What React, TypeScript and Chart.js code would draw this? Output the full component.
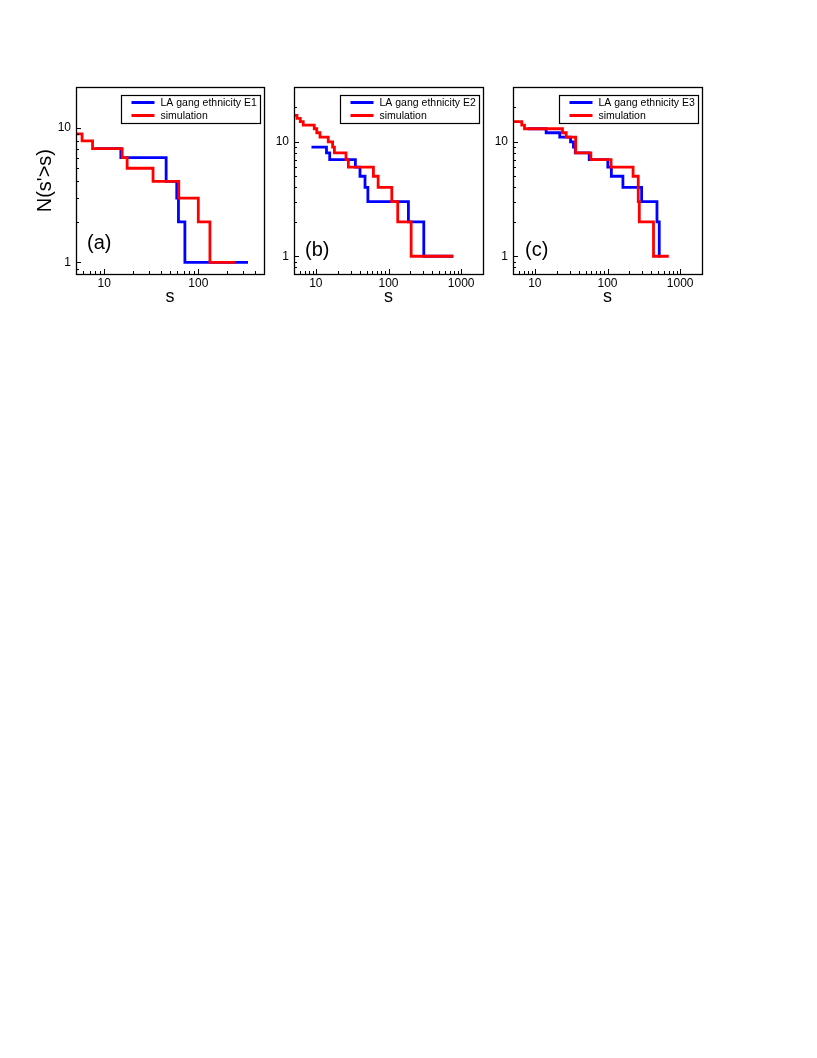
import React, { useEffect, useRef } from 'react';
import { Chart, registerables } from 'chart.js';

Chart.register(...registerables);

const FONT = '"Liberation Sans", Arial, Helvetica, sans-serif';

// ---------- data: panel (a) ----------
const aBlueS = [8, 15, 45.5, 59, 61.5, 72, 338];
const aBlueN = [7, 6, 4, 3, 2, 1, 1];
const aRedS = [5, 5.8, 7.5, 15.5, 17.5, 33, 62, 100, 133, 248];
const aRedN = [9, 8, 7, 6, 5, 4, 3, 2, 1, 1];

// ---------- data: panel (b) ----------
const bBlueS = [8.7, 14, 15.5, 35, 40.5, 47.5, 52, 188, 306, 780];
const bBlueN = [9, 8, 7, 6, 5, 4, 3, 2, 1, 1];
const bRedS = [5, 5.5, 6.1, 6.7, 9.5, 10.3, 11.4, 14.8, 17, 18, 26, 28, 62, 72, 111, 134, 205, 780];
const bRedN = [17, 16, 15, 14, 13, 12, 11, 10, 9, 8, 7, 6, 5, 4, 3, 2, 1, 1];

// ---------- data: panel (c) ----------
const cBlueS = [8, 14.3, 22, 31, 34, 36, 56, 101, 113, 163, 295, 480, 516, 530];
const cBlueN = [13, 12, 11, 10, 9, 8, 7, 6, 5, 4, 3, 2, 1, 1];
const cRedS = [5, 6.6, 7.2, 24, 27, 36.5, 59, 112, 225, 265, 274, 430, 698];
const cRedN = [15, 14, 13, 12, 11, 8, 7, 6, 5, 3, 2, 1, 1];

// ---------- labels ----------
const dataLabels = ['LA gang ethnicity E1', 'LA gang ethnicity E2', 'LA gang ethnicity E3'];
const simLabel = 'simulation';
const panelLabels = ['(a)', '(b)', '(c)'];
const yTitle = "N(s'>s)";
const xTitle = 's';

// ---------- axis ranges ----------
const xRanges = [[5, 500], [5, 2000], [5, 2000]];
const yRanges = [[0.82, 20], [0.7, 30], [0.7, 30]];

const BLUE = '#0000ff';
const RED = '#ff0000';

const isPow10 = (v: number) => Math.abs(Math.log10(v) - Math.round(Math.log10(v))) < 1e-6;

function logTicks(min: number, max: number) {
  const out: { value: number }[] = [];
  for (let k = Math.floor(Math.log10(min)); k <= Math.ceil(Math.log10(max)); k++) {
    for (let d = 1; d <= 9; d++) {
      const v = d * Math.pow(10, k);
      if (v > min * 1.0001 && v < max * 0.9999) out.push({ value: v });
    }
  }
  return out;
}

const toPts = (s: number[], n: number[]) => s.map((x, i) => ({ x, y: n[i] }));

const decorPlugin = {
  id: 'decor',
  afterDraw(chart: any, _args: any, opts: any) {
    const { ctx, chartArea: ca } = chart;
    const xs = chart.scales.x;
    const ys = chart.scales.y;
    ctx.save();
    ctx.strokeStyle = '#000';
    ctx.lineWidth = 1;
    // inward ticks on bottom & left
    ctx.beginPath();
    for (const t of xs.ticks) {
      const px = Math.round(xs.getPixelForValue(t.value)) + 0.5;
      const len = isPow10(t.value) ? 5 : 3;
      ctx.moveTo(px, ca.bottom);
      ctx.lineTo(px, ca.bottom - len);
    }
    for (const t of ys.ticks) {
      const py = Math.round(ys.getPixelForValue(t.value)) + 0.5;
      const len = isPow10(t.value) ? 5 : 3;
      ctx.moveTo(ca.left, py);
      ctx.lineTo(ca.left + len, py);
    }
    ctx.stroke();
    // frame
    ctx.lineWidth = 1.3;
    ctx.strokeRect(Math.round(ca.left) + 0.5, Math.round(ca.top) + 0.5, Math.round(ca.right - ca.left), Math.round(ca.bottom - ca.top));

    // legend box
    const lw = 139, lh = 28;
    const lx = Math.round(ca.right - 4 - lw) + 0.5;
    const ly = Math.round(ca.top + 8) + 0.5;
    ctx.fillStyle = '#fff';
    ctx.fillRect(lx, ly, lw, lh);
    ctx.lineWidth = 1.2;
    ctx.strokeStyle = '#000';
    ctx.strokeRect(lx, ly, lw, lh);
    const items = opts.legend as { label: string; color: string }[];
    items.forEach((it, i) => {
      const yy = ly + 7 + i * 13;
      ctx.beginPath();
      ctx.strokeStyle = it.color;
      ctx.lineWidth = 3;
      ctx.moveTo(lx + 10, yy);
      ctx.lineTo(lx + 33, yy);
      ctx.stroke();
      ctx.fillStyle = '#000';
      ctx.font = `10.5px ${FONT}`;
      ctx.textAlign = 'left';
      ctx.textBaseline = 'middle';
      ctx.fillText(it.label, lx + 39, yy + 0.5);
    });

    // panel label
    ctx.fillStyle = '#000';
    ctx.font = `20px ${FONT}`;
    ctx.textAlign = 'left';
    ctx.textBaseline = 'middle';
    ctx.fillText(opts.panelLabel, ca.left + opts.labelDx, ca.bottom - opts.labelDy);
    ctx.restore();
  },
};

type PanelSpec = {
  left: number; top: number; w: number; h: number;
  yW: number; xH: number; padTop: number; padRight: number;
  blue: { x: number; y: number }[]; red: { x: number; y: number }[];
  xr: number[]; yr: number[]; label: string; panelLabel: string;
  showYTitle: boolean; labelDx: number; labelDy: number;
};

const panels: PanelSpec[] = [
  { left: 16, top: 75, w: 256, h: 240, yW: 60, xH: 41, padTop: 10, padRight: 8,
    blue: toPts(aBlueS, aBlueN), red: toPts(aRedS, aRedN), xr: xRanges[0], yr: yRanges[0],
    label: dataLabels[0], panelLabel: panelLabels[0], showYTitle: true, labelDx: 11, labelDy: 31 },
  { left: 266, top: 75, w: 226, h: 240, yW: 28, xH: 41, padTop: 10, padRight: 9,
    blue: toPts(bBlueS, bBlueN), red: toPts(bRedS, bRedN), xr: xRanges[1], yr: yRanges[1],
    label: dataLabels[1], panelLabel: panelLabels[1], showYTitle: false, labelDx: 11, labelDy: 24 },
  { left: 485, top: 75, w: 226, h: 240, yW: 28, xH: 41, padTop: 10, padRight: 9,
    blue: toPts(cBlueS, cBlueN), red: toPts(cRedS, cRedN), xr: xRanges[2], yr: yRanges[2],
    label: dataLabels[2], panelLabel: panelLabels[2], showYTitle: false, labelDx: 12, labelDy: 24 },
];

function Panel({ spec }: { spec: PanelSpec }) {
  const ref = useRef<HTMLCanvasElement | null>(null);
  useEffect(() => {
    if (!ref.current) return;
    const tickCb = (v: any) => (isPow10(Number(v)) ? String(Math.round(Number(v))) : '');
    const chart = new Chart(ref.current, {
      type: 'line',
      data: {
        datasets: [
          { label: spec.label, data: spec.blue, borderColor: BLUE, borderWidth: 2.8, pointRadius: 0,
            stepped: 'before', fill: false, order: 2 },
          { label: simLabel, data: spec.red, borderColor: RED, borderWidth: 2.8, pointRadius: 0,
            stepped: 'before', fill: false, order: 1 },
        ],
      } as any,
      options: {
        animation: false,
        responsive: false,
        devicePixelRatio: 1,
        events: [],
        layout: { padding: { top: spec.padTop, right: spec.padRight, left: 0, bottom: 0 } },
        plugins: {
          legend: { display: false },
          tooltip: { enabled: false },
          decor: {
            legend: [
              { label: spec.label, color: BLUE },
              { label: simLabel, color: RED },
            ],
            panelLabel: spec.panelLabel,
            labelDx: spec.labelDx,
            labelDy: spec.labelDy,
          },
        } as any,
        scales: {
          x: {
            type: 'logarithmic',
            min: spec.xr[0],
            max: spec.xr[1],
            afterBuildTicks: (s: any) => { s.ticks = logTicks(spec.xr[0], spec.xr[1]); },
            afterFit: (s: any) => { s.height = spec.xH; },
            grid: { display: false, drawTicks: false, tickLength: 0 },
            border: { display: false },
            ticks: { autoSkip: false, maxRotation: 0, minRotation: 0, padding: 2, color: '#000',
              font: { family: FONT, size: 12 }, callback: tickCb },
            title: { display: true, text: xTitle, color: '#000', font: { family: FONT, size: 18 },
              padding: { top: 0, bottom: 7 } },
          },
          y: {
            type: 'logarithmic',
            min: spec.yr[0],
            max: spec.yr[1],
            afterBuildTicks: (s: any) => { s.ticks = logTicks(spec.yr[0], spec.yr[1]); },
            afterFit: (s: any) => { s.width = spec.yW; },
            grid: { display: false, drawTicks: false, tickLength: 0 },
            border: { display: false },
            ticks: { autoSkip: false, padding: 5, color: '#000', font: { family: FONT, size: 12 },
              callback: tickCb },
            title: { display: spec.showYTitle, text: yTitle, color: '#000', font: { family: FONT, size: 20 },
              padding: { top: 17.5, bottom: 0 } },
          },
        },
      } as any,
      plugins: [decorPlugin as any],
    });
    return () => chart.destroy();
  }, [spec]);
  return (
    <canvas
      ref={ref}
      width={spec.w}
      height={spec.h}
      style={{ position: 'absolute', left: spec.left, top: spec.top, width: spec.w, height: spec.h }}
    />
  );
}

export default function App() {
  return (
    <div style={{ position: 'absolute', left: 0, top: 0, width: 817, height: 1058, background: '#fff' }}>
      {panels.map((p, i) => (
        <Panel key={i} spec={p} />
      ))}
    </div>
  );
}
